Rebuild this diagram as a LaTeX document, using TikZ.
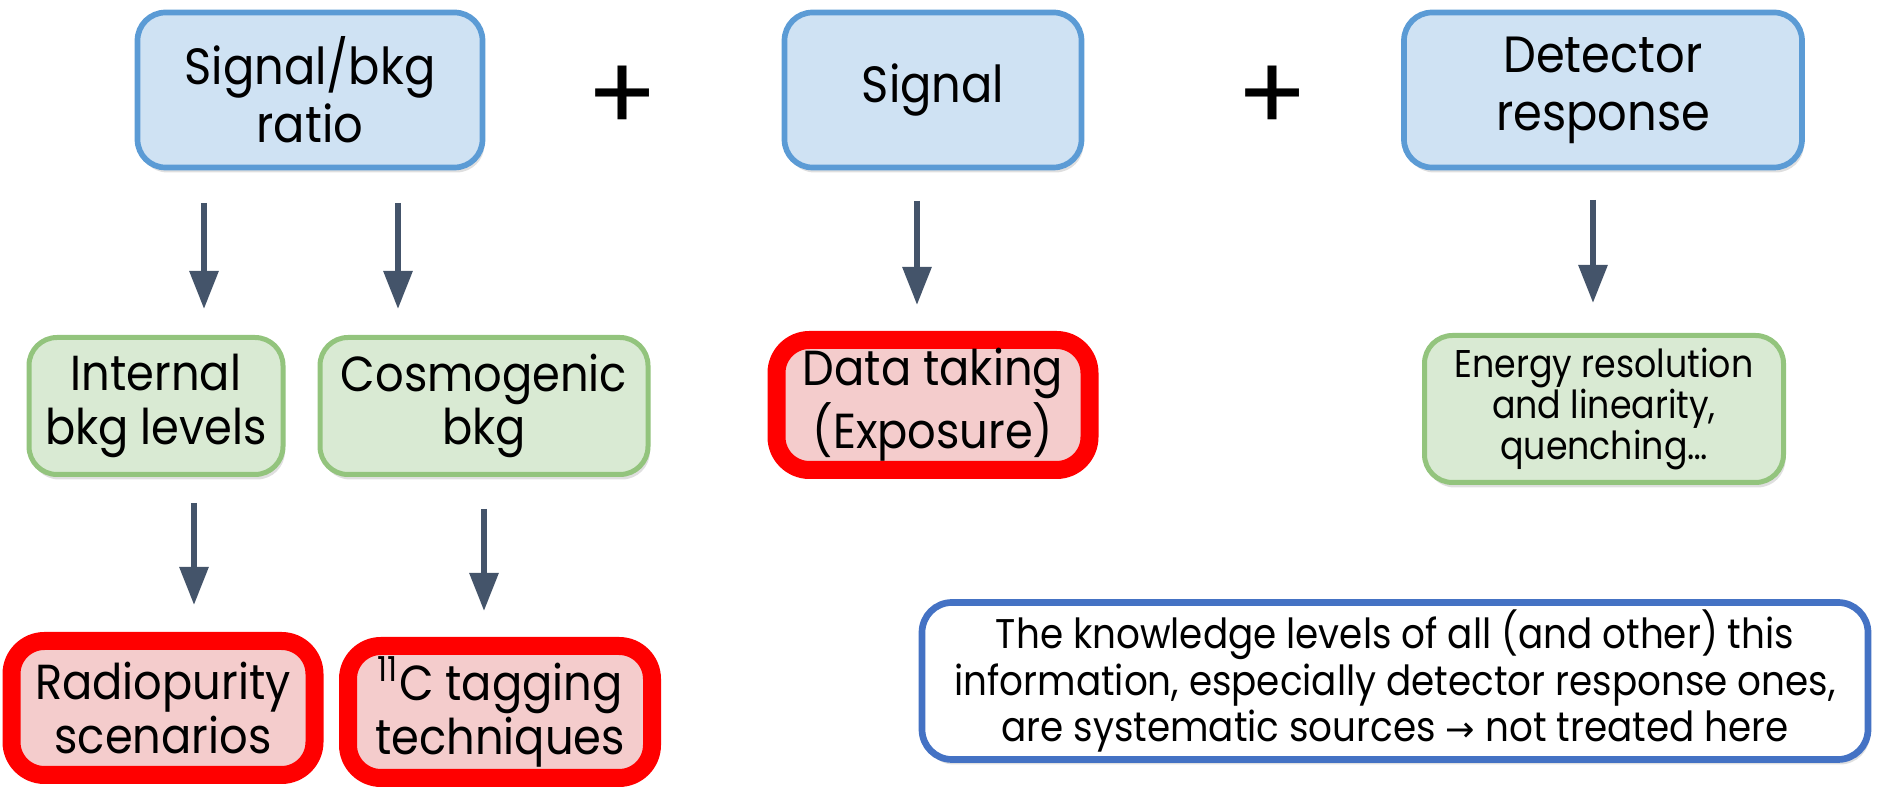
\documentclass[tikz,border=0pt]{standalone}
\usepackage{fontspec}
\setmainfont{Poppins}
\newfontfamily\narrowfont{Poppins}[FakeStretch=0.91]
\newfontfamily\smallfont{Poppins}[FakeStretch=0.9]
\newfontfamily\symfont{DejaVu Sans}
\usetikzlibrary{arrows.meta,shadows}
\definecolor{goalfill}{HTML}{CFE2F3}
\definecolor{goalline}{HTML}{5B9BD5}
\definecolor{factorfill}{HTML}{D9EAD3}
\definecolor{factorline}{HTML}{93C47D}
\definecolor{taskfill}{HTML}{F4CCCC}
\definecolor{noteline}{HTML}{4472C4}
\definecolor{flowgray}{HTML}{44546A}
\tikzset{
  basebox/.style={rounded corners=0.28cm, align=center, inner sep=0pt,
    font=\narrowfont\fontsize{14}{15.3}\selectfont,
    drop shadow={opacity=0.25, shadow xshift=0.02cm, shadow yshift=-0.05cm}},
  goalbox/.style={basebox, draw=goalline, fill=goalfill, line width=0.057cm, minimum height=1.55cm,
    font=\narrowfont\fontsize{14.5}{16.5}\selectfont},
  factorbox/.style={basebox, draw=factorline, fill=factorfill, line width=0.05cm},
  taskbox/.style={basebox, draw=red, fill=taskfill, line width=0.18cm, rounded corners=0.33cm},
  notebox/.style={basebox, draw=noteline, fill=white, line width=0.067cm, rounded corners=0.3cm,
    font=\smallfont\fontsize{11.8}{11.6}\selectfont},
  flow/.style={flowgray, line width=0.06cm, -{Triangle[length=0.38cm,width=0.28cm]}},
  plus/.style={font=\fontsize{30}{30}\selectfont}
}
\begin{document}
\begin{tikzpicture}
  \useasboundingbox (0,0) rectangle (18.78,7.88);
  % top row
  \node[goalbox, minimum width=3.45cm] at (3.10,6.98) (ratio) {Signal/bkg\\ratio};
  \node[plus] at (6.23,6.89) (plusA) {+};
  \node[goalbox, minimum width=2.97cm] at (9.33,6.98) (signal) {Signal};
  \node[plus] at (12.73,6.89) (plusB) {+};
  \node[goalbox, minimum width=3.98cm] at (16.03,6.98) (detector) {Detector\\response};
  % middle row
  \node[factorbox, minimum width=2.54cm, minimum height=1.37cm] at (1.56,3.82) (internal) {Internal\\bkg levels};
  \node[factorbox, minimum width=3.28cm, minimum height=1.37cm] at (4.84,3.82) (cosmo) {Cosmogenic\\bkg};
  \node[taskbox, minimum width=3.13cm, minimum height=1.30cm] at (9.33,3.83) (datataking) {Data taking\\(Exposure)};
  \node[factorbox, minimum width=3.59cm, minimum height=1.47cm, font=\smallfont\fontsize{11}{11.8}\selectfont] at (16.04,3.79) (energy) {Energy resolution\\and linearity,\\quenching…};
  % bottom row
  \node[taskbox, minimum width=3.03cm, minimum height=1.34cm] at (1.63,0.80) (radio) {Radiopurity\\scenarios};
  \node[taskbox, minimum width=3.04cm, minimum height=1.32cm] at (5.00,0.76) (tagging) {\textsuperscript{11}C tagging\\techniques};
  \node[notebox, minimum width=9.46cm, minimum height=1.57cm] at (13.95,1.07) (note) {The knowledge levels of all (and other) this\\information, especially detector response ones,\\are systematic sources {\symfont\fontsize{10}{10}\selectfont →} not treated here};
  % arrows
  \coordinate (a1) at (2.04,5.85); \coordinate (b1) at (2.04,4.79);
  \coordinate (a2) at (3.98,5.85); \coordinate (b2) at (3.98,4.79);
  \coordinate (a3) at (9.17,5.87); \coordinate (b3) at (9.17,4.83);
  \coordinate (a4) at (15.93,5.88); \coordinate (b4) at (15.93,4.85);
  \coordinate (a5) at (1.94,2.85); \coordinate (b5) at (1.94,1.83);
  \coordinate (a6) at (4.84,2.79); \coordinate (b6) at (4.84,1.77);
  \draw[flow] (a1) -- (b1);
  \draw[flow] (a2) -- (b2);
  \draw[flow] (a3) -- (b3);
  \draw[flow] (a4) -- (b4);
  \draw[flow] (a5) -- (b5);
  \draw[flow] (a6) -- (b6);
\end{tikzpicture}
\end{document}
